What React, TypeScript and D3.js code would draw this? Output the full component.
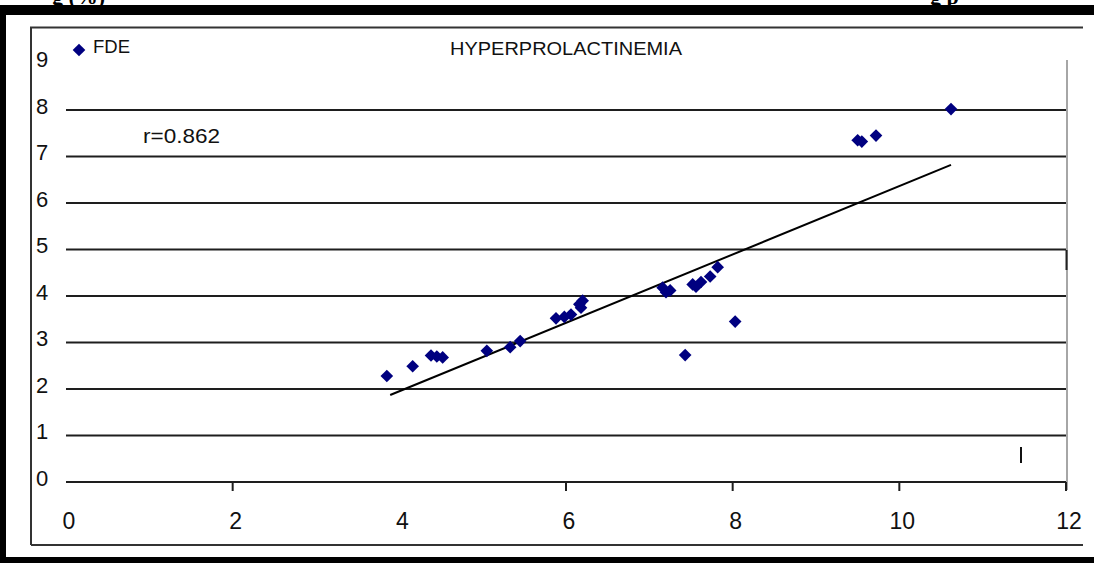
import React from "react";
import * as d3 from "d3";

const W = 1094;
const H = 563;

const xTicks = [0, 2, 4, 6, 8, 10, 12];
const xTickMarks = [2, 6, 8, 10, 12];
const yTicks = [0, 1, 2, 3, 4, 5, 6, 7, 8, 9];
const gridValues = [0, 1, 2, 3, 4, 5, 6, 7, 8];

const seriesName = "FDE";
const chartTitle = "HYPERPROLACTINEMIA";
const rLabel = "r=0.862";

const xValues = [3.85, 4.16, 4.38, 4.45, 4.52, 5.05, 5.33, 5.45, 5.88, 5.98, 6.06, 6.16, 6.2, 6.18, 7.16, 7.25, 7.2, 7.52, 7.56, 7.62, 7.73, 7.82, 7.43, 8.03, 9.5, 9.55, 9.72, 10.62];
const yValues = [2.28, 2.49, 2.72, 2.7, 2.68, 2.82, 2.9, 3.03, 3.52, 3.55, 3.6, 3.82, 3.9, 3.75, 4.18, 4.12, 4.08, 4.25, 4.2, 4.3, 4.42, 4.62, 2.73, 3.45, 7.35, 7.32, 7.45, 8.02];

const trendX = [3.89, 10.62];
const trendY = [1.87, 6.82];

export default function App() {
  const x = d3.scaleLinear().domain([0, 12]).range([66, 1066]);
  const y = d3.scaleLinear().domain([0, 9]).range([482, 63.5]);
  const diamond = d3.symbol(d3.symbolSquare, 80)() as string;
  const trend = d3
    .line<number>()
    .x((_, i) => x(trendX[i]))
    .y((d) => y(d))(trendY) as string;

  return (
    <svg
      width={W}
      height={H}
      style={{ position: "fixed", left: 0, top: 0, display: "block", background: "#fff" }}
      fontFamily="'Liberation Sans', Arial, sans-serif"
    >
      <rect x={0} y={0} width={W} height={H} fill="#fff" />
      {/* clipped caption above the chart */}
      <text x={52} y={4} fontFamily="'Liberation Serif', serif" fontWeight="bold" fontSize={22} fill="#000">
        g (%)
      </text>
      <text x={930} y={4} fontFamily="'Liberation Serif', serif" fontWeight="bold" fontSize={22} fill="#000">
        g p
      </text>
      {/* black outer border */}
      <rect x={0} y={5} width={W} height={10} fill="#000" />
      <rect x={0} y={5} width={6} height={H - 5} fill="#000" />
      <rect x={0} y={557} width={W} height={6} fill="#000" />
      {/* inner chart frame */}
      <path d="M31,545 L31,27.5 L1083,27.5" fill="none" stroke="#333" strokeWidth={2} />
      <line x1={31} x2={1083} y1={545} y2={545} stroke="#333" strokeWidth={2} />

      {/* right plot border */}
      <line x1={1067} x2={1067} y1={60} y2={490} stroke="#888" strokeWidth={1.5} />
      <line x1={1066.5} x2={1066.5} y1={250} y2={270} stroke="#222" strokeWidth={2} />
      <line x1={1021} x2={1021} y1={447} y2={463} stroke="#111" strokeWidth={2} />

      {/* gridlines */}
      {gridValues.map((v) => (
        <line key={"g" + v} x1={x(0)} x2={x(12)} y1={y(v)} y2={y(v)} stroke="#1e1e1e" strokeWidth={2} />
      ))}
      {/* x tick marks */}
      {xTickMarks.map((v) => (
        <line key={"t" + v} x1={x(v)} x2={x(v)} y1={y(0)} y2={y(0) + 9} stroke="#1e1e1e" strokeWidth={2} />
      ))}
      {/* y labels */}
      {yTicks.map((v) => (
        <text key={"yl" + v} x={36} y={y(v) - 2} dominantBaseline="middle" fontSize={22} fill="#111">
          {v}
        </text>
      ))}
      {/* x labels */}
      {xTicks.map((v) => (
        <text key={"xl" + v} x={x(v) + 3} y={529} textAnchor="middle" fontSize={23} fill="#111">
          {v}
        </text>
      ))}

      {/* title */}
      <text x={450} y={55} fontSize={18} fill="#111" textLength={232} lengthAdjust="spacingAndGlyphs">
        {chartTitle}
      </text>
      {/* legend */}
      <path d={diamond} transform="translate(79,50) rotate(45)" fill="#000080" />
      <text x={93} y={53} fontSize={19} fill="#111" textLength={37} lengthAdjust="spacingAndGlyphs">
        {seriesName}
      </text>
      {/* r label */}
      <text x={143} y={143} fontSize={20} fill="#111" textLength={77} lengthAdjust="spacingAndGlyphs">
        {rLabel}
      </text>

      {/* trendline */}
      <path d={trend} fill="none" stroke="#000" strokeWidth={2} />

      {/* points */}
      {xValues.map((xv, i) => (
        <path
          key={"p" + i}
          d={diamond}
          transform={`translate(${x(xv)},${y(yValues[i])}) rotate(45)`}
          fill="#000080"
        />
      ))}
    </svg>
  );
}
